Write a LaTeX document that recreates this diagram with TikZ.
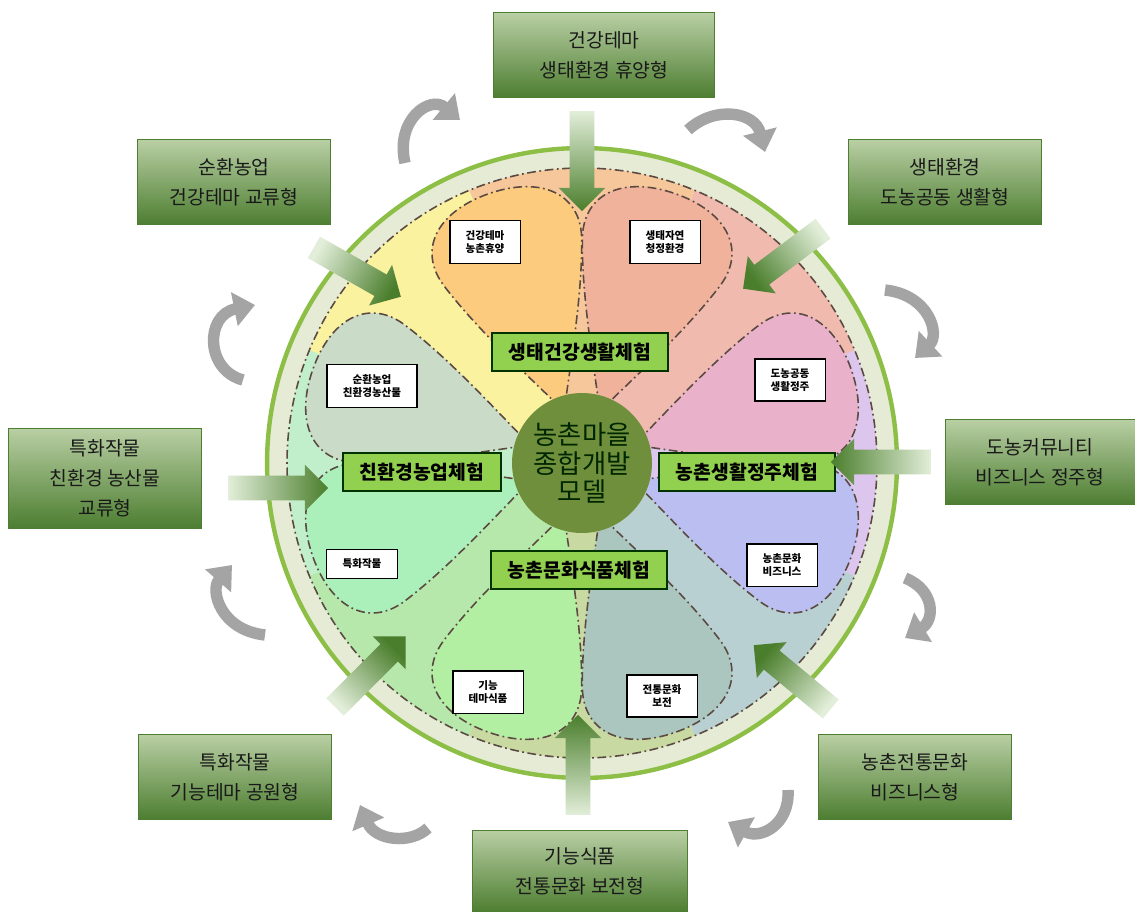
\documentclass[tikz,border=0pt]{standalone}
\usepackage{fontspec}
\setmainfont{Noto Sans CJK KR}
\usetikzlibrary{shapes.arrows,arrows.meta}

\definecolor{ringline}{HTML}{8DBE45}
\definecolor{ringfill}{HTML}{E5EBD5}
\definecolor{dashcol}{HTML}{5B4A42}
\definecolor{hubfill}{HTML}{6F8F3C}
\definecolor{tagfill}{HTML}{92D050}
\definecolor{boxtop}{HTML}{B9CFA4}
\definecolor{boxmid}{HTML}{F4F7F0}
\definecolor{boxbot}{HTML}{4D7E31}
\definecolor{arrowlight}{HTML}{E2EED9}
\definecolor{arrowdark}{HTML}{4A7E2C}
\definecolor{cyclegray}{HTML}{A4A4A4}

\tikzset{
	petal/.style={draw=dashcol,line width=0.9pt,dash pattern=on 5pt off 2pt on 1pt off 2pt},
	smallbox/.style={draw=black,fill=white,line width=0.8pt,align=center,inner xsep=9pt,inner ysep=5.5pt,font=\fontsize{6}{7.5}\selectfont\bfseries},
	tagbox/.style={draw=black!80!green,fill=tagfill,line width=1.2pt,inner xsep=0.33cm,minimum height=0.76cm,font=\fontsize{11}{13}\selectfont\bfseries},
	outerbox/.style={draw=boxbot,line width=0.5pt,top color=boxtop,middle color=boxmid,bottom color=boxbot,align=center,minimum width=3.86cm,minimum height=1.7cm,font=\fontsize{11}{17}\selectfont,text=black!90},
	inarrow/.style={single arrow,single arrow head extend=0.22cm,minimum height=2cm,inner xsep=0pt,inner ysep=0.24cm,top color=arrowdark,bottom color=arrowlight},
	cyclearrow/.style={draw=cyclegray,line width=6.5pt,-{Triangle[width=19pt,length=12pt]}}
}

\begin{document}
\begin{tikzpicture}[x=0.02cm,y=-0.02cm]
	\useasboundingbox (0,0) rectangle (1135,912);
	\fill[white] (0,0) rectangle (1135,912);
	
	\node (ring) [circle,draw=ringline,line width=2.5pt,fill=ringfill,minimum size=12.6cm,inner sep=0pt] at (582,463) {};
	
	\foreach \a/\c in {0/DCC6EE,45/F0BBAE,90/F6C79A,135/FBF2A0,180/C2EFCB,225/B6E8AC,270/C9D9A2,315/B9D0D2}{
		\definecolor{wedgecol}{HTML}{\c}
		\fill[wedgecol,shift={(582,463)},rotate=\a] (0,0) -- (-22.5:295) arc[start angle=-22.5,end angle=22.5,radius=295] -- cycle;
	}
	\draw[petal] (582,463) circle[radius=295];
	
	\foreach \a/\c in {19/E9B2CA,71/F0B29B,109/FCCB7E,161/CADCC7,199/ABEFBA,251/B3EFA3,289/AAC6BE,341/BABEF1}{
		\definecolor{petalcol}{HTML}{\c}
		\draw[petal,fill=petalcol,shift={(582,463)},rotate=\a] (55,0) .. controls (110,28) and (160,55) .. (210,72) .. controls (255,88) and (285,55) .. (285,0) .. controls (285,-55) and (255,-88) .. (210,-72) .. controls (160,-55) and (110,-28) .. (55,0) -- cycle;
	}
	
	\foreach \x/\y/\t [count=\i] in {485/242/{건강테마\\농촌휴양},665/242/{생태자연\\청정환경},790/380/{도농공동\\생활정주},372/386/{순환농업\\친환경농산물},362/564/{특화작물},782/565/{농촌문화\\비즈니스},488/692/{기능\\테마식품},662/696/{전통문화\\보전}}
		\node (small\i) [smallbox] at (\x,\y) {\t};
	
	\node (tagtop) [tagbox] at (580,352) {생태건강생활체험};
	\node (tagright) [tagbox] at (747,472) {농촌생활정주체험};
	\node (tagbottom) [tagbox] at (579,570) {농촌문화식품체험};
	\node (tagleft) [tagbox] at (422,472) {친환경농업체험};
	
	\node (hub) [circle,fill=hubfill,minimum size=2.8cm,inner sep=0pt,align=center,font=\fontsize{15}{16}\selectfont,text=black!85!green] at (582,463) {농촌마을\\종합개발\\모델};
	
	\foreach \x/\y/\r/\s [count=\i] in {582/155/-90/-180,352/269/-29.6/-119.6,788/255/-143.1/-233.1,272/488/0/-90,887/462/180/90,366/676/45/-45,797/681/140.4/50.4,578/771/90/0}
		\node (in\i) [inarrow,rotate=\r,shading angle=\s] at (\x,\y) {};
	
	\node (m1) [outerbox,minimum width=4.42cm] at (604,55) {건강테마\\생태환경 휴양형};
	\node (m2) [outerbox] at (234,182) {순환농업\\건강테마 교류형};
	\node (m3) [outerbox] at (945,182) {생태환경\\도농공동 생활형};
	\node (m4) [outerbox,minimum height=2cm] at (105,478) {특화작물\\친환경 농산물\\교류형};
	\node (m5) [outerbox,minimum width=3.8cm] at (1040,462) {도농커뮤니티\\비즈니스 정주형};
	\node (m6) [outerbox] at (235,777) {특화작물\\기능테마 공원형};
	\node (m7) [outerbox] at (915,777) {농촌전통문화\\비즈니스형};
	\node (m8) [outerbox,minimum width=4.3cm,minimum height=1.64cm] at (580,871) {기능식품\\전통문화 보전형};
	
	\draw[cyclearrow] (405,163) .. controls (395,120) and (430,95) .. (460,120);
	\draw[cyclearrow] (688,130) .. controls (715,105) and (755,112) .. (765,152);
	\draw[cyclearrow] (885,290) .. controls (930,295) and (940,335) .. (915,358);
	\draw[cyclearrow] (905,578) .. controls (935,590) and (935,620) .. (905,638);
	\draw[cyclearrow] (788,790) .. controls (790,825) and (760,840) .. (728,822);
	\draw[cyclearrow] (428,828) .. controls (410,845) and (375,840) .. (360,805);
	\draw[cyclearrow] (265,635) .. controls (220,630) and (210,590) .. (232,565);
	\draw[cyclearrow] (243,380) .. controls (205,370) and (205,315) .. (255,305);
\end{tikzpicture}
\end{document}
